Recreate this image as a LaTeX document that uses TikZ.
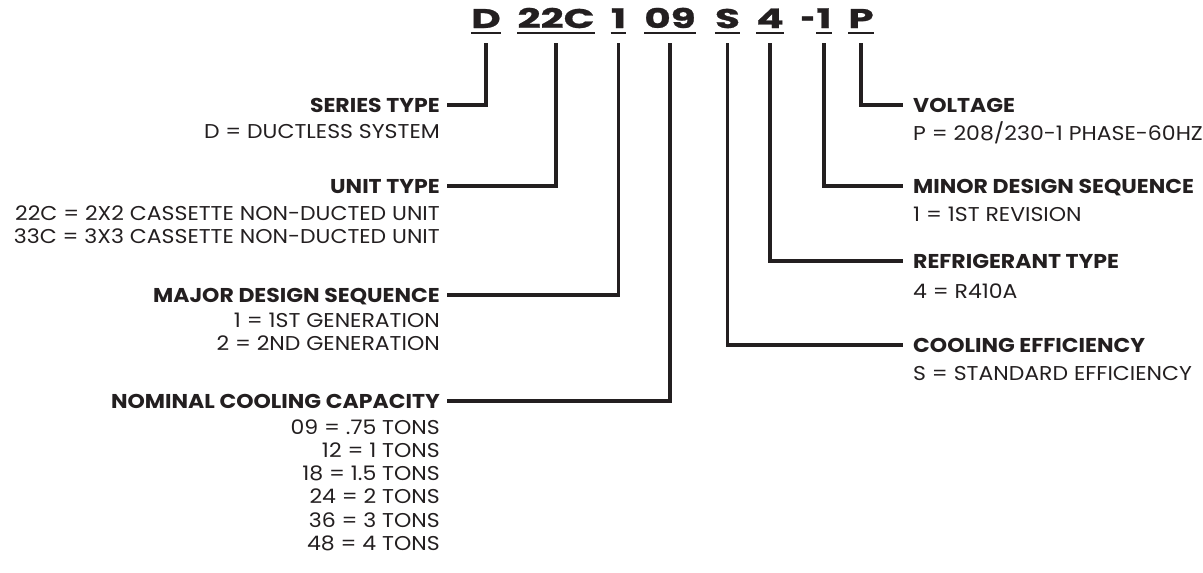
\documentclass[tikz,border=0pt]{standalone}
\usepackage{fontspec}
\setmainfont{Poppins}[FakeStretch=1.1]
\definecolor{ink}{HTML}{231F20}
\tikzset{
  code/.style={font=\fontsize{27}{27}\selectfont\bfseries\addfontfeature{FakeStretch=1.5,FakeBold=1}, inner sep=0pt, anchor=base, text=ink},
  codedash/.style={code, font=\fontsize{27}{27}\selectfont\bfseries\addfontfeature{FakeStretch=0.9,FakeBold=1.5}},
  ttl/.style={font=\fontsize{20}{20}\selectfont\bfseries, inner sep=0pt, text height=14pt, text depth=0pt, text=ink},
  sub/.style={font=\fontsize{20}{20}\selectfont, inner sep=0pt, text=ink},
  conn/.style={line width=3.5pt, shorten <=15pt, draw=ink},
  uline/.style={line width=2pt, draw=ink}
}
\begin{document}
\begin{tikzpicture}[x=1pt,y=-1pt]
\useasboundingbox (0,0) rectangle (1203,573);
% code letters
\node[code] (cD) at (486,28) {D};
\node[code] (c22) at (556,28) {22C};
\node[code] (c1) at (618.5,28) {1};
\node[code] (c09) at (670,28) {09};
\node[code] (cS) at (727.5,28) {S};
\node[code] (c4) at (770,28) {4};
\node[code] (c1b) at (824,28) {1};
\node[codedash, anchor=base east] (cdash) at ([xshift=-1pt]c1b.base west) {-};
\node[code] (cP) at (861,28) {P};
\foreach \n in {cD,c22,c1,c09,cS,c4,c1b,cP}
  \draw[uline] ([yshift=-5pt]\n.base west) -- ([yshift=-5pt]\n.base east);

% left titles
\node[ttl, anchor=east] (tSer) at (440,105) {SERIES TYPE};
\node[ttl, anchor=east] (tUnit) at (440,186) {UNIT TYPE};
\node[ttl, anchor=east] (tMaj) at (440,295) {MAJOR DESIGN SEQUENCE};
\node[ttl, anchor=east] (tNom) at (440,401) {NOMINAL COOLING CAPACITY};
% right titles
\node[ttl, anchor=west] (tVolt) at (913,105) {VOLTAGE};
\node[ttl, anchor=west] (tMin) at (913,186) {MINOR DESIGN SEQUENCE};
\node[ttl, anchor=west] (tRef) at (913,261) {REFRIGERANT TYPE};
\node[ttl, anchor=west] (tCool) at (913,345) {COOLING EFFICIENCY};

% left sub lines (baselines)
\node[sub, anchor=base east] (sSer1) at (440,138) {D = DUCTLESS SYSTEM};
\node[sub, anchor=base east] (sUnit1) at (440,220) {22C = 2X2 CASSETTE NON-DUCTED UNIT};
\node[sub, anchor=base east] (sUnit2) at (440,243.5) {33C = 3X3 CASSETTE NON-DUCTED UNIT};
\node[sub, anchor=base east] (sMaj1) at (440,327) {1 = 1ST GENERATION};
\node[sub, anchor=base east] (sMaj2) at (440,350.3) {2 = 2ND GENERATION};
\foreach \t [count=\i from 0] in {09 = .75 TONS,12 = 1 TONS,18 = 1.5 TONS,24 = 2 TONS,36 = 3 TONS,48 = 4 TONS}
  \node[sub, anchor=base east] (sNom\i) at (440,{434+23.3*\i}) {\t};
% right sub lines
\node[sub, anchor=base west] (sVolt) at (913,140) {P = 208/230-1 PHASE-60HZ};
\node[sub, anchor=base west] (sMin) at (913,221) {1 = 1ST REVISION};
\node[sub, anchor=base west] (sRef) at (913,298) {4 = R410A};
\node[sub, anchor=base west] (sCool) at (913,380) {S = STANDARD EFFICIENCY};

% connectors
\draw[conn] (cD.south) |- ([xshift=7pt]tSer.east);
\draw[conn] (c22.south) |- ([xshift=7pt]tUnit.east);
\draw[conn] (c1.south) |- ([xshift=7pt]tMaj.east);
\draw[conn] (c09.south) |- ([xshift=7pt]tNom.east);
\draw[conn] (cP.south) |- ([xshift=-10pt]tVolt.west);
\draw[conn] (c1b.south) |- ([xshift=-10pt]tMin.west);
\draw[conn] (c4.south) |- ([xshift=-10pt]tRef.west);
\draw[conn] (cS.south) |- ([xshift=-10pt]tCool.west);
\end{tikzpicture}
\end{document}
